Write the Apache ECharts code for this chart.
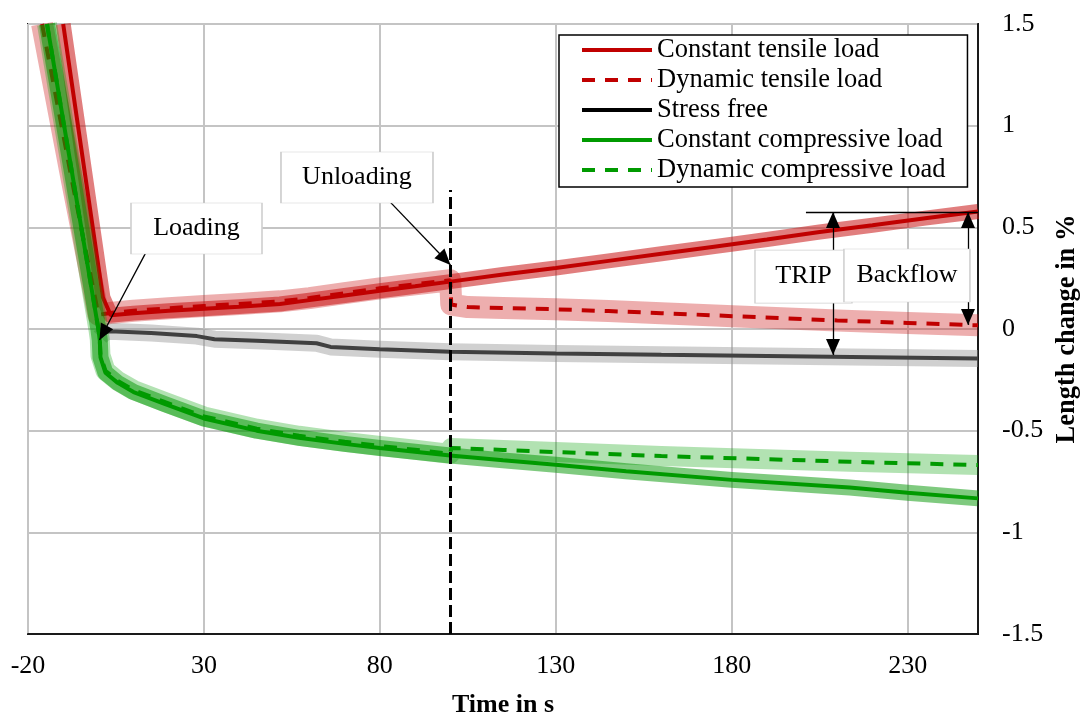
<!DOCTYPE html>
<html><head><meta charset="utf-8">
<script src="https://cdn.jsdelivr.net/npm/echarts@6/dist/echarts.min.js"></script>
<style>html,body{margin:0;padding:0;background:#fff}#c{width:1083px;height:715px}</style>
</head><body><div id="c"></div>
<script>
// ---- data (time in s, length change in %) ----
const tensileConstT = [-10, 1.3, 3.5, 10, 20, 30, 40, 51.6, 60, 70, 80, 90, 100, 115, 130, 145, 160, 175, 190, 205, 220, 235, 250];
const tensileConstV = [1.5, 0.155, 0.068, 0.078, 0.09, 0.1, 0.11, 0.123, 0.142, 0.165, 0.188, 0.21, 0.233, 0.268, 0.30, 0.335, 0.37, 0.405, 0.44, 0.477, 0.51, 0.545, 0.578];

const tensileDynT = [-16, -7.5, 0, 2, 4, 10, 20, 30, 40, 51.6, 60, 70, 80, 90, 100, 100.3, 105, 115, 130, 145, 160, 182, 210, 230, 250];
const tensileDynV = [1.5, 0.73, 0.07, 0.075, 0.08, 0.09, 0.102, 0.113, 0.123, 0.136, 0.152, 0.176, 0.2, 0.22, 0.24, 0.12, 0.108, 0.103, 0.097, 0.088, 0.078, 0.062, 0.042, 0.03, 0.018];

const freeT = [0.5, 1.5, 3, 5, 15, 28, 33, 45, 57, 62, 66, 80, 100, 130, 160, 190, 220, 250];
const freeV = [-0.04, -0.02, -0.012, -0.012, -0.02, -0.035, -0.05, -0.058, -0.066, -0.07, -0.088, -0.1, -0.112, -0.12, -0.127, -0.133, -0.139, -0.145];

const compConstT = [-14.6, 0, 0.4, 0.6, 2, 5.5, 10, 19, 30, 45, 57, 70, 80, 90, 100, 115, 130, 150, 180, 213.5, 230, 250];
const compConstV = [1.5, 0.0, -0.055, -0.14, -0.215, -0.265, -0.31, -0.37, -0.44, -0.50, -0.535, -0.565, -0.585, -0.604, -0.622, -0.646, -0.668, -0.70, -0.742, -0.78, -0.805, -0.833];

const compDynT = [-14.6, 0, 0.4, 0.6, 2, 5.5, 10, 19, 30, 45, 57, 70, 80, 90, 100, 100.3, 115, 130, 160, 190, 213.5, 250];
const compDynV = [1.5, 0.0, -0.05, -0.13, -0.205, -0.255, -0.30, -0.36, -0.43, -0.49, -0.525, -0.555, -0.575, -0.594, -0.614, -0.585, -0.595, -0.605, -0.625, -0.64, -0.653, -0.669];

const seriesNames = ['Constant tensile load', 'Dynamic tensile load', 'Stress free', 'Constant compressive load', 'Dynamic compressive load'];

const xMin = -20, xMax = 250, xStep = 50;
const yMin = -1.5, yMax = 1.5, yStep = 0.5;

// annotations: text boxes and arrows
const boxLabels = ['Loading', 'Unloading', 'TRIP', 'Backflow'];
const boxT = [27.89, 73.5, 200.4, 229.8];
const boxV = [0.494, 0.745, 0.258, 0.263];
const unloadT = 100;           // unloading instant
const unloadTopV = 0.683;
const tripT = 208.79, backflowT = 247.16;
const refV = 0.575, refStartT = 201.1;
const tripBottomV = -0.128, backflowBottomV = 0.020;
const loadArrow = [[14.39, 0.405], [0.32, -0.054]];
const unloadArrow = [[81.46, 0.651], [100.08, 0.315]];

// ---- build ----
const FONT = 'Liberation Serif';
const RED = '#c00000', GREEN = '#009a00', GRAY = '#404040';
function pairs(T, V) { return T.map((t, i) => [t, V[i]]); }
const series = [];
function band(id, T, V, color, width, z) {
  series.push({ name: id, type: 'line', data: pairs(T, V), symbol: 'none', silent: true, z: z,
    lineStyle: { color: color, width: width, cap: 'butt', join: 'round' }, emphasis: { disabled: true } });
}
function line(name, T, V, color, dashed, z) {
  series.push({ name: name, type: 'line', data: pairs(T, V), symbol: 'none', silent: true, z: z,
    itemStyle: { color: color },
    lineStyle: { color: color, width: 4, type: dashed ? [13, 10] : 'solid', cap: 'butt' }, emphasis: { disabled: true } });
}
band('_b_free', freeT, freeV, 'rgba(150,150,150,0.45)', 17, 1);
band('_b_td', tensileDynT, tensileDynV, 'rgba(205,30,30,0.36)', 22, 1);
band('_b_tc', tensileConstT, tensileConstV, 'rgba(200,20,20,0.55)', 15, 1);
line(seriesNames[2], freeT, freeV, GRAY, false, 2);
line(seriesNames[1], tensileDynT, tensileDynV, RED, true, 2);
line(seriesNames[0], tensileConstT, tensileConstV, RED, false, 2);
band('_b_cd', compDynT, compDynV, 'rgba(0,160,0,0.3)', 20, 2);
band('_b_cc', compConstT, compConstV, 'rgba(0,150,0,0.5)', 16, 2);
line(seriesNames[4], compDynT, compDynV, GREEN, true, 3);
line(seriesNames[3], compConstT, compConstV, GREEN, false, 3);

const head = { symbol: 'triangle', symbolSize: [14, 16], symbolOffset: [0, 8] };
const noHead = { symbol: 'none' };
series.push({
  name: '_annot', type: 'line', data: [], z: 10, silent: true,
  markPoint: {
    silent: true, animation: false, symbol: 'rect',
    itemStyle: { color: '#fff', borderColor: '#cfcfcf', borderWidth: 1 },
    label: { show: true, position: 'inside', formatter: '{b}', color: '#000', fontFamily: FONT, fontSize: 26 },
    data: boxLabels.map((s, i) => ({ name: s, coord: [boxT[i], boxV[i]],
      symbolSize: [[131, 51], [152, 51], [97, 53], [126, 53]][i] }))
  },
  markLine: {
    silent: true, animation: false, symbol: 'none', label: { show: false },
    lineStyle: { color: '#000', width: 1.3, type: 'solid' },
    emphasis: { disabled: true },
    data: [
      [Object.assign({ coord: [unloadT, yMin] }, noHead), Object.assign({ coord: [unloadT, unloadTopV] }, noHead, { lineStyle: { type: [12, 5], width: 3, color: '#000' } })],
      [Object.assign({ coord: loadArrow[0] }, noHead), Object.assign({ coord: loadArrow[1] }, head)],
      [Object.assign({ coord: unloadArrow[0] }, noHead), Object.assign({ coord: unloadArrow[1] }, head)],
      [Object.assign({ coord: [refStartT, refV] }, noHead), Object.assign({ coord: [xMax, refV] }, noHead)],
      [Object.assign({ coord: [tripT, refV] }, head), Object.assign({ coord: [tripT, tripBottomV] }, head)],
      [Object.assign({ coord: [backflowT, refV] }, head), Object.assign({ coord: [backflowT, backflowBottomV] }, head)]
    ]
  }
});

const chart = echarts.init(document.getElementById('c'), null, { renderer: 'canvas' });
chart.setOption({
  animation: false,
  backgroundColor: '#fff',
  textStyle: { fontFamily: FONT },
  grid: { left: 28, right: 105, top: 24, bottom: 81, outerBoundsMode: 'none', containLabel: false,
    show: true, borderColor: '#1a1a1a', borderWidth: 2, backgroundColor: 'transparent' },
  legend: {
    data: seriesNames.map(n => n === 'Stress free' ? { name: n, lineStyle: { color: '#000' } } : { name: n }),
    orient: 'vertical', left: 559, top: 35, itemWidth: 70, itemHeight: 14, itemGap: 0,
    padding: [0, 22, 2, 21], backgroundColor: '#fff', borderColor: '#000', borderWidth: 1.5,
    textStyle: { fontFamily: FONT, fontSize: 26.5, color: '#000', lineHeight: 30 },
    itemStyle: { opacity: 0 },
    lineStyle: { width: 4 }, selectedMode: false, z: 20
  },
  xAxis: {
    type: 'value', min: xMin, max: xMax, interval: xStep,
    name: 'Time in s', nameLocation: 'middle', nameGap: 58,
    nameTextStyle: { fontFamily: FONT, fontSize: 26, fontWeight: 'bold', color: '#000' },
    axisLine: { show: true, onZero: false, lineStyle: { color: '#1a1a1a', width: 2 } },
    axisTick: { show: false },
    axisLabel: { fontFamily: FONT, fontSize: 26, color: '#000', margin: 19, showMaxLabel: false,
      formatter: v => (v === xMax ? '' : String(v)) },
    splitLine: { show: true, lineStyle: { color: '#c4c4c4', width: 2 } }
  },
  yAxis: {
    type: 'value', position: 'right', min: yMin, max: yMax, interval: yStep,
    name: 'Length change in %', nameLocation: 'middle', nameGap: 76, nameRotate: 90,
    nameTextStyle: { fontFamily: FONT, fontSize: 26.5, fontWeight: 'bold', color: '#000' },
    axisLine: { show: true, onZero: false, lineStyle: { color: '#1a1a1a', width: 2 } },
    axisTick: { show: false },
    axisLabel: { fontFamily: FONT, fontSize: 26, color: '#000', margin: 24 },
    splitLine: { show: true, lineStyle: { color: '#c4c4c4', width: 2 } }
  },
  series: series
});
</script></body></html>
